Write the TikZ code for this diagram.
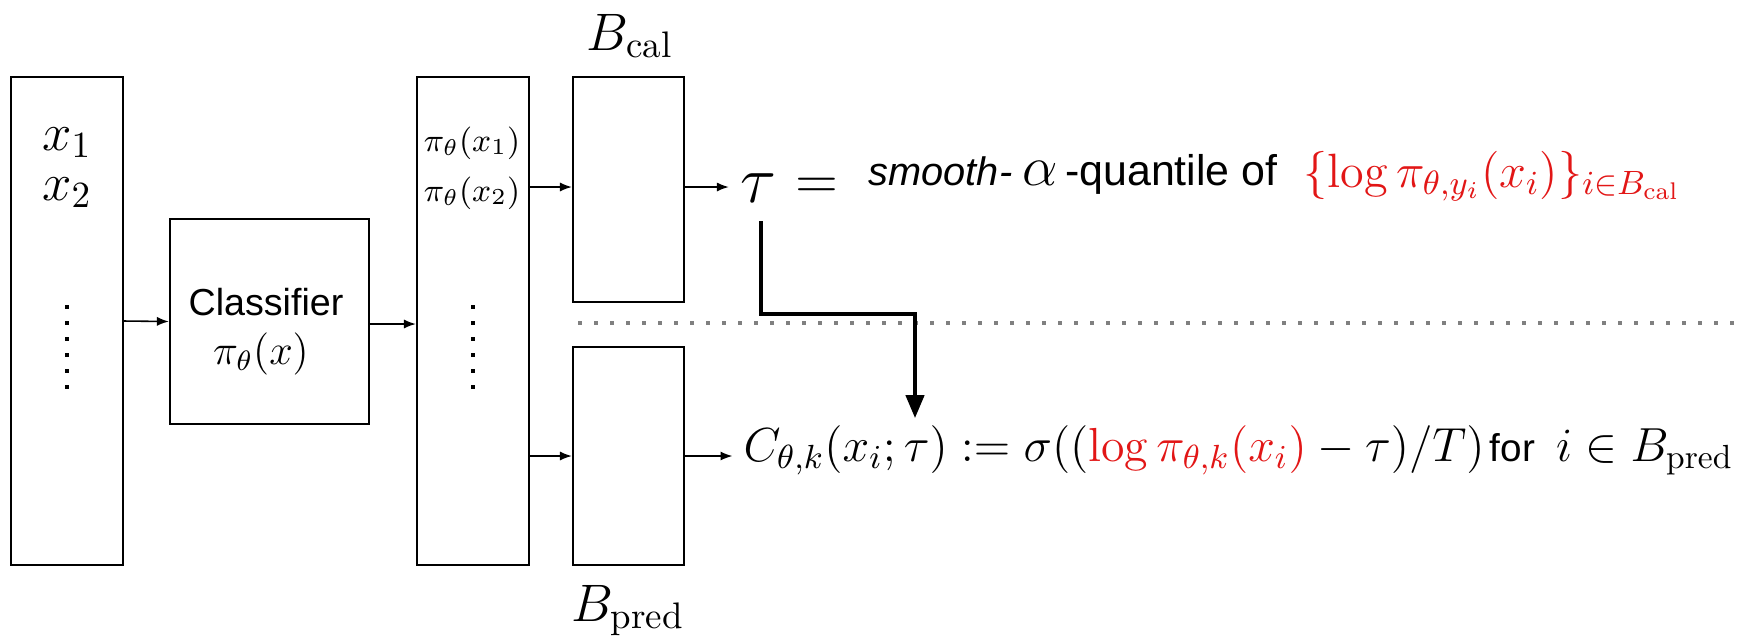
\documentclass[tikz,border=0pt]{standalone}
\usepackage{fix-cm}
\usepackage{fontspec}
\usepackage{amsmath}
\usetikzlibrary{arrows.meta,calc}
\newfontfamily\arial{Liberation Sans}
\definecolor{setred}{RGB}{226,22,22}
\newcommand{\fsz}[1]{\fontsize{#1}{#1}\selectfont}

\begin{document}
\begin{tikzpicture}[x=0.01cm, y=-0.01cm,
    blk/.style={draw, line width=0.6pt, inner sep=0pt},
    txt/.style={inner sep=0pt},
    link/.style={-{Latex[length=3.4pt,width=2.6pt]}, line width=0.45pt},
    bigarrow/.style={-{Triangle[length=6.5pt,width=5.2pt]}, line width=0.95pt}]
    \useasboundingbox (0,0) rectangle (1746,635);

    % boxes
    \node[blk, minimum width=1.12cm, minimum height=4.88cm] (inbox) at (67,321) {};
    \node[blk, minimum width=1.99cm, minimum height=2.05cm] (clf) at (269.5,321.5) {};
    \node[blk, minimum width=1.12cm, minimum height=4.88cm] (scores) at (473,321) {};
    \node[blk, minimum width=1.11cm, minimum height=2.25cm] (calbox) at (628.5,189.5) {};
    \node[blk, minimum width=1.11cm, minimum height=2.18cm] (predbox) at (628.5,456) {};

    % box contents
    \node[txt, anchor=base, font=\fsz{15}] (x1) at (67,150) {$x_1$};
    \node[txt, anchor=base, font=\fsz{15}] (x2) at (67,200) {$x_2$};
    \node[txt, anchor=base, font=\fsz{10.7}\arial] (clfname) at (266,315) {Classifier};
    \node[txt, anchor=base, font=\fsz{12}] (clfpi) at (261,364) {$\pi_\theta(x)$};
    \node[txt, anchor=base, font=\fsz{9.3}] (p1) at (472,151) {$\pi_\theta(x_1)$};
    \node[txt, anchor=base, font=\fsz{9.3}] (p2) at (472,201) {$\pi_\theta(x_2)$};
    \foreach \y in {307,323,...,387} {
        \fill (65,\y-2) rectangle (69,\y+2);
        \fill (471,\y-2) rectangle (475,\y+2);
    }

    \node[txt, anchor=base, font=\fsz{15}] (calname) at (630,50) {$B_{\mathrm{cal}}$};
    \node[txt, anchor=base, font=\fsz{15}] (predname) at (628,621) {$B_{\mathrm{pred}}$};

    % threshold line
    \node[txt, font=\fsz{19}] (tau) at (758,188) {$\tau$};
    \node[txt, font=\fsz{16}] (eq) at (817,188) {$=$};
    \node[txt, anchor=base west, font=\fsz{11.3}\arial] (quant) at (868,185)
        {\textit{smooth-}\hspace{3pt}{\fsz{16}$\alpha$}\hspace{2pt}{\fsz{12.2}-quantile of}};
    \node[txt, anchor=base west, font=\fsz{13.7}, text=setred] (cset) at (1303,187)
        {$\{\log\pi_{\theta,y_i}(x_i)\}_{i\in B_{\mathrm{cal}}}$};

    % prediction line
    \node[txt, anchor=base west, font=\fsz{13.6}] (cdef) at (743,461)
        {$C_{\theta,k}(x_i;\tau) := \sigma((\textcolor{setred}{\log\pi_{\theta,k}(x_i)}-\tau)/T)$\hspace{1.5pt}{\arial\fsz{11}for}\hspace{6pt}$i\in B_{\mathrm{pred}}$};

    \draw[gray, line width=1.15pt, dash pattern=on 1.15pt off 3.4pt] (578,323) -- (1746,323);

    % connectors
    \draw[link] (inbox.east) -- (clf.west);
    \draw[link] (clf.east |- 0,324) -- (scores.west |- 0,324);
    \draw[link] (scores.east |- 0,187) -- (calbox.west |- 0,187);
    \draw[link] (scores.east |- predbox.west) -- (predbox.west);
    \draw[link, shorten >=3pt] (calbox.east |- 0,187) -- (tau.west |- 0,187);
    \draw[link, shorten >=3pt] (predbox.east) -- (predbox.east -| cdef.west);
    \coordinate (cin) at (915,418);
    \draw[bigarrow] ($(tau.south)+(3,18)$) -- ($(tau.south)+(3,111)$) -| (cin);
\end{tikzpicture}
\end{document}
